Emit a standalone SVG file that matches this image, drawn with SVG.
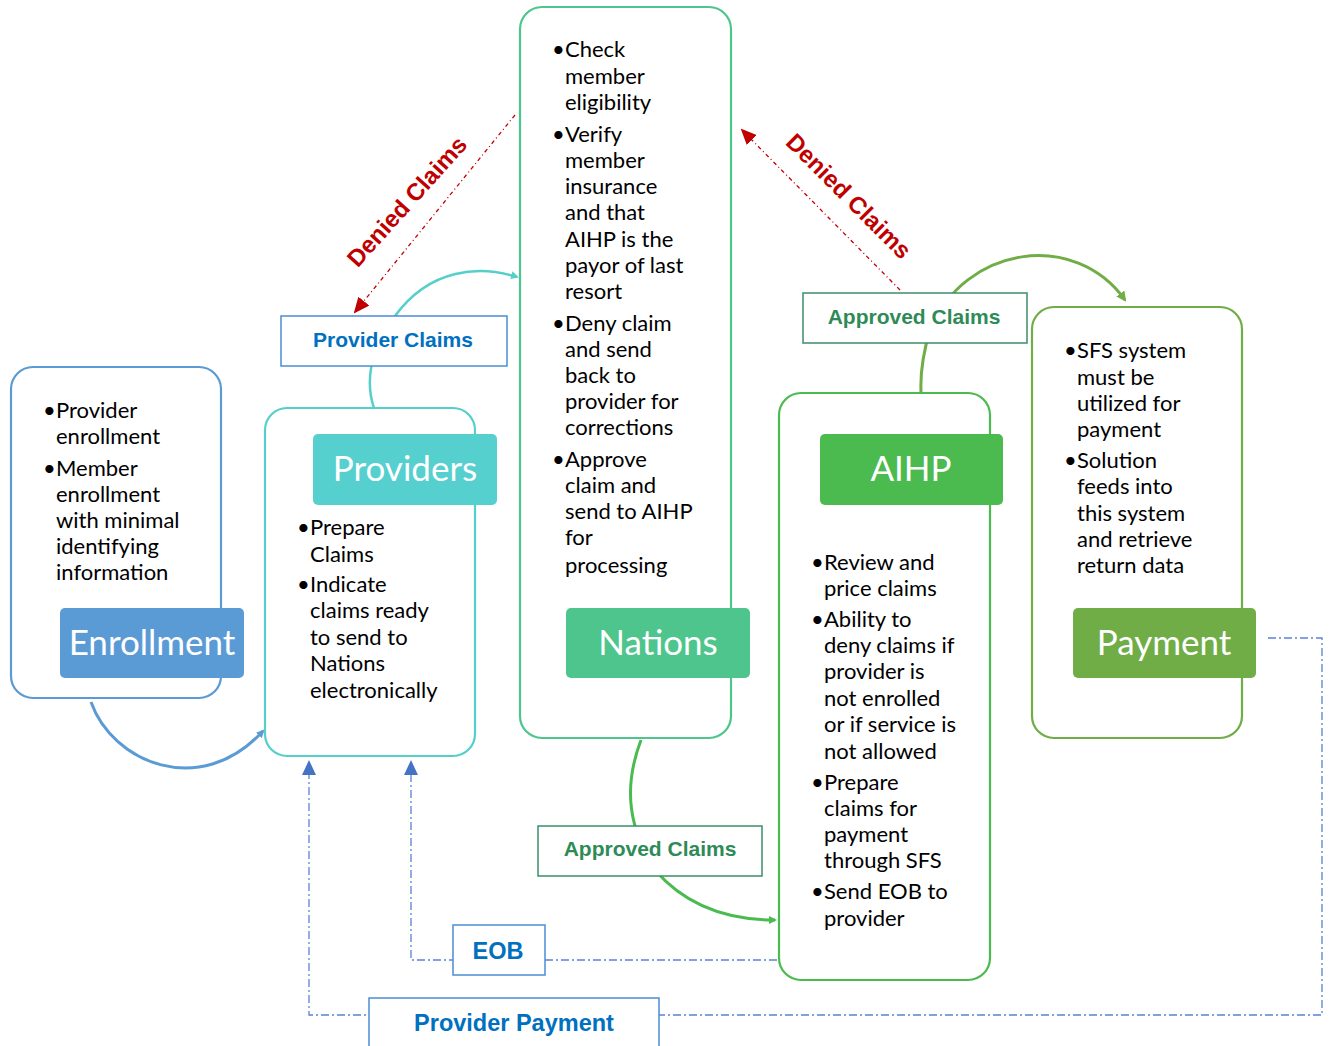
<svg xmlns="http://www.w3.org/2000/svg" width="1329" height="1046" viewBox="0 0 1329 1046">
<defs>
<style>
.box{fill:#fff;stroke-width:2.2}
.body{font-family:Lato,"Liberation Sans",sans-serif;font-size:22px;fill:#000}
.title{font-family:Lato,"Liberation Sans",sans-serif;font-size:35px;fill:#fff;text-anchor:middle}
.lbl{fill:#fff;stroke-width:1.5}
.lbltxt{font-family:"Liberation Sans",Arial,sans-serif;font-weight:bold;font-size:21px;text-anchor:middle}
.blue{fill:#0070C0}
.green{fill:#2E8B57}
.denied{font-family:"Liberation Sans",Arial,sans-serif;font-weight:bold;font-size:24px;fill:#C00000;text-anchor:middle}
.dd{fill:none;stroke:#5A82D6;stroke-width:1.3;stroke-dasharray:8 3 2 3}
.red{fill:none;stroke:#C00000;stroke-width:1.3;stroke-dasharray:4 3 1 3}
</style>
<marker id="aBlue" markerWidth="8" markerHeight="8" refX="6" refY="4" orient="auto" markerUnits="userSpaceOnUse"><path d="M0,0 L8,4 L0,8 Z" fill="#5B9BD5"/></marker>
<marker id="aTeal" markerWidth="8" markerHeight="8" refX="6" refY="4" orient="auto" markerUnits="userSpaceOnUse"><path d="M0,0 L8,4 L0,8 Z" fill="#56CFCB"/></marker>
<marker id="aGreen" markerWidth="8" markerHeight="8" refX="6" refY="4" orient="auto" markerUnits="userSpaceOnUse"><path d="M0,0 L8,4 L0,8 Z" fill="#4BBA4F"/></marker>
<marker id="aLGreen" markerWidth="10" markerHeight="10" refX="8" refY="5" orient="auto" markerUnits="userSpaceOnUse"><path d="M0,0 L10,5 L0,10 Z" fill="#70AD47"/></marker>
<marker id="aRed" markerWidth="16" markerHeight="14" refX="14" refY="7" orient="auto" markerUnits="userSpaceOnUse"><path d="M0,0 L16,7 L0,14 Z" fill="#C00000"/></marker>
</defs>

<g id="connectors">
<path d="M91,702 C112,762 200,800 263,731" fill="none" stroke="#5B9BD5" stroke-width="3" marker-end="url(#aBlue)"/>
<path d="M374,408 C366,385 368,350 395,316 C430,268 480,265 517,277" fill="none" stroke="#56CFCB" stroke-width="2.5" marker-end="url(#aTeal)"/>
<path d="M641,740 C622,790 630,830 655,870 C685,905 725,920 775,920" fill="none" stroke="#4BBA4F" stroke-width="3" marker-end="url(#aGreen)"/>
<path d="M921,392 C920,370 924,350 930,330 C965,245 1075,230 1125,300" fill="none" stroke="#70AD47" stroke-width="3" marker-end="url(#aLGreen)"/>
<path class="red" d="M515,115 L355,312" marker-end="url(#aRed)"/>
<path class="red" d="M900,290 L742,130" marker-end="url(#aRed)"/>
<path class="dd" d="M777,960 L411,960 L411,774"/>
<path d="M404,775 L418,775 L411,760 Z" fill="#4472C4"/>
<path class="dd" d="M1268,638 L1322,638 L1322,1015 L309,1015 L309,774"/>
<path d="M302,775 L316,775 L309,760 Z" fill="#4472C4"/>
<text class="denied" transform="translate(413,207) rotate(-48)">Denied Claims</text>
<text class="denied" transform="translate(843,202) rotate(45)">Denied Claims</text>
</g>

<g id="enrollment">
<rect class="box" x="11" y="367" width="210" height="331" rx="22" stroke="#5B9BD5"/>
<rect x="60" y="608" width="184" height="70" rx="5" fill="#5B9BD5"/>
<text class="title" x="152" y="655">Enrollment</text>
<text class="body"><tspan x="43" y="418">•</tspan><tspan x="56" y="418">Provider</tspan><tspan x="56" y="444">enrollment</tspan><tspan x="43" y="476">•</tspan><tspan x="56" y="476">Member</tspan><tspan x="56" y="502">enrollment</tspan><tspan x="56" y="528">with minimal</tspan><tspan x="56" y="554">identifying</tspan><tspan x="56" y="580">information</tspan></text>
</g>

<g id="providers">
<rect class="box" x="265" y="408" width="210" height="348" rx="22" stroke="#56CFCB"/>
<rect x="313" y="434" width="184" height="71" rx="5" fill="#56CFCF"/>
<text class="title" x="405" y="481">Providers</text>
<text class="body"><tspan x="297" y="535">•</tspan><tspan x="310" y="535">Prepare</tspan><tspan x="310" y="562">Claims</tspan><tspan x="297" y="592">•</tspan><tspan x="310" y="592">Indicate</tspan><tspan x="310" y="618">claims ready</tspan><tspan x="310" y="645">to send to</tspan><tspan x="310" y="671">Nations</tspan><tspan x="310" y="698">electronically</tspan></text>
</g>

<g id="nations">
<rect class="box" x="520" y="7" width="211" height="731" rx="22" stroke="#4EC58C"/>
<rect x="566" y="608" width="184" height="70" rx="5" fill="#4EC58C"/>
<text class="title" x="658" y="655">Nations</text>
<text class="body"><tspan x="552" y="57">•</tspan><tspan x="565" y="57">Check</tspan><tspan x="565" y="84">member</tspan><tspan x="565" y="110">eligibility</tspan><tspan x="552" y="142">•</tspan><tspan x="565" y="142">Verify</tspan><tspan x="565" y="168">member</tspan><tspan x="565" y="194">insurance</tspan><tspan x="565" y="220">and that</tspan><tspan x="565" y="247">AIHP is the</tspan><tspan x="565" y="273">payor of last</tspan><tspan x="565" y="299">resort</tspan><tspan x="552" y="331">•</tspan><tspan x="565" y="331">Deny claim</tspan><tspan x="565" y="357">and send</tspan><tspan x="565" y="383">back to</tspan><tspan x="565" y="409">provider for</tspan><tspan x="565" y="435">corrections</tspan><tspan x="552" y="467">•</tspan><tspan x="565" y="467">Approve</tspan><tspan x="565" y="493">claim and</tspan><tspan x="565" y="519">send to AIHP</tspan><tspan x="565" y="545">for</tspan><tspan x="565" y="573">processing</tspan></text>
</g>

<g id="aihp">
<rect class="box" x="779" y="393" width="211" height="587" rx="22" stroke="#4BBA4F"/>
<rect x="820" y="434" width="183" height="71" rx="5" fill="#4BBA4F"/>
<text class="title" x="911" y="481">AIHP</text>
<text class="body"><tspan x="811" y="570">•</tspan><tspan x="824" y="570">Review and</tspan><tspan x="824" y="596">price claims</tspan><tspan x="811" y="627">•</tspan><tspan x="824" y="627">Ability to</tspan><tspan x="824" y="653">deny claims if</tspan><tspan x="824" y="679">provider is</tspan><tspan x="824" y="706">not enrolled</tspan><tspan x="824" y="732">or if service is</tspan><tspan x="824" y="759">not allowed</tspan><tspan x="811" y="790">•</tspan><tspan x="824" y="790">Prepare</tspan><tspan x="824" y="816">claims for</tspan><tspan x="824" y="842">payment</tspan><tspan x="824" y="868">through SFS</tspan><tspan x="811" y="899">•</tspan><tspan x="824" y="899">Send EOB to</tspan><tspan x="824" y="926">provider</tspan></text>
</g>

<g id="payment">
<rect class="box" x="1032" y="307" width="210" height="431" rx="22" stroke="#70AD47"/>
<rect x="1073" y="608" width="183" height="70" rx="5" fill="#70AD47"/>
<text class="title" x="1164" y="655">Payment</text>
<text class="body"><tspan x="1064" y="358">•</tspan><tspan x="1077" y="358">SFS system</tspan><tspan x="1077" y="385">must be</tspan><tspan x="1077" y="411">utilized for</tspan><tspan x="1077" y="437">payment</tspan><tspan x="1064" y="468">•</tspan><tspan x="1077" y="468">Solution</tspan><tspan x="1077" y="494">feeds into</tspan><tspan x="1077" y="521">this system</tspan><tspan x="1077" y="547">and retrieve</tspan><tspan x="1077" y="573">return data</tspan></text>
</g>

<g id="label-provider-claims">
<rect class="lbl" x="281" y="316" width="226" height="50" stroke="#4A8FD4"/>
<text class="lbltxt blue" x="393" y="347">Provider Claims</text>
</g>
<g id="label-approved-top">
<rect class="lbl" x="803" y="293" width="224" height="50" stroke="#3A8E6A"/>
<text class="lbltxt green" x="914" y="324">Approved Claims</text>
</g>
<g id="label-approved-bottom">
<rect class="lbl" x="538" y="826" width="224" height="50" stroke="#3A8E6A"/>
<text class="lbltxt green" x="650" y="856">Approved Claims</text>
</g>
<g id="label-eob">
<rect class="lbl" x="453" y="925" width="92" height="50" stroke="#4A8FD4"/>
<text class="lbltxt blue" x="498" y="959" style="font-size:23.5px">EOB</text>
</g>
<g id="label-provider-payment">
<rect class="lbl" x="369" y="998" width="290" height="60" stroke="#4A8FD4"/>
<text class="lbltxt blue" x="514" y="1031" style="font-size:23.5px">Provider Payment</text>
</g>
</svg>
